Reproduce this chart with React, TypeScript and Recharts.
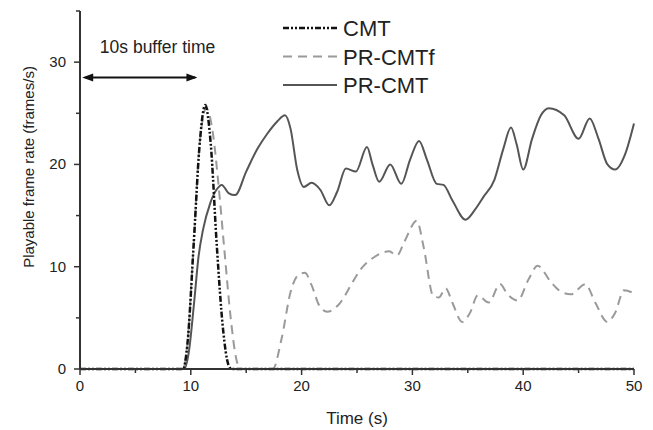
import { LineChart, Line, XAxis, YAxis, ReferenceLine, ReferenceDot, Legend } from "recharts";

const cmtTime = [0, 9.3, 9.7, 10.25, 10.8, 11.3, 11.8, 12.35, 12.9, 13.4, 13.7, 50];
const cmtRate = [0, 0, 2.5, 12, 22, 25.8, 22, 12, 4, 0.4, 0, 0];

const prfTime = [
  0, 9.3, 9.7, 10.25, 10.8, 11.4, 12.0, 12.5, 13.0, 13.6, 14.1, 14.5, 17.4, 18.2, 19.0, 19.7, 20.3,
  20.9, 21.6, 22.3, 23.5, 24.5, 25.3, 26.5, 27.9, 28.6, 29.3, 30.4, 31.0, 31.9, 32.4, 33.0, 33.6,
  34.5, 35.2, 35.9, 36.9, 37.9, 38.6, 39.5, 40.5, 41.3, 42.5, 43.5, 44.3, 45.6, 46.5, 47.6, 48.3,
  49.1, 50,
];
const prfRate = [
  0, 0, 2.5, 12, 22, 25.5, 23, 18, 12, 5, 1, 0, 0, 3, 7.5, 9.2, 9.4,
  8.2, 6.2, 5.6, 6.5, 8.3, 9.7, 10.9, 11.5, 11.1, 12.5, 14.5, 12, 7.1, 7.0, 7.9, 6.5,
  4.6, 5.5, 7.2, 6.5, 8.3, 7.3, 6.7, 8.8, 10.1, 8.5, 7.5, 7.3, 8.3, 6.5, 4.6, 5.5,
  7.7, 7.4,
];

const prTime = [
  0, 9.4, 9.8, 10.3, 10.7, 11.1, 11.75, 12.3, 12.8, 13.4, 14.0, 15.0, 16.0, 16.9, 17.8, 18.5, 19.0,
  19.6, 20.2, 20.9, 21.7, 22.5, 23.2, 24.0, 24.9, 25.9, 26.4, 27.0, 28.0, 29.0, 29.8, 30.6, 31.3,
  32.2, 32.8, 33.6, 34.8, 35.6, 36.4, 37.4, 38.2, 38.9, 39.4, 40.0, 40.8, 41.6, 42.3, 43.7, 45.0,
  46.0, 46.8, 47.6, 48.3, 49.2, 50,
];
const prRate = [
  0, 0, 1.5, 6.5, 11, 13.6, 16.2, 17.5, 18.0, 17.2, 17.0, 19.3, 21.5, 23.0, 24.2, 24.8, 23.5,
  19.5, 17.8, 18.2, 17.5, 16.0, 17.3, 19.6, 19.3, 21.7, 20.0, 18.3, 20.0, 18.1, 20.5, 22.3, 20.5,
  18.1, 18.0, 16.5, 14.6, 15.5, 16.8, 18.5, 21.5, 23.6, 22.0, 19.5, 22.5, 24.8, 25.5, 24.8, 22.5,
  24.5, 22.5, 20.0, 19.5, 21, 24.0,
];

const xTicks = [0, 5, 10, 15, 20, 25, 30, 35, 40, 45, 50];
const yTicks = [0, 5, 10, 15, 20, 25, 30, 35];

const toPoints = (t: number[], v: number[]) => t.map((x, i) => ({ t: x, v: v[i] }));
const cmtData = toPoints(cmtTime, cmtRate);
const prfData = toPoints(prfTime, prfRate);
const prData = toPoints(prTime, prRate);

const FONT = "'Liberation Sans', Arial, Helvetica, sans-serif";
const INK = "#222";

const series = [
  { name: "CMT", color: "#111", dash: "6 2 2 2 2 2", width: 2.5 },
  { name: "PR-CMTf", color: "#9a9a9a", dash: "9 6", width: 2 },
  { name: "PR-CMT", color: "#555", dash: undefined, width: 2 },
];

function XTick({ x, y, payload }: any) {
  const major = payload.value % 10 === 0;
  return (
    <g>
      <line x1={x} x2={x} y1={y} y2={y + (major ? 6 : 4)} stroke="#333" strokeWidth={1.5} />
      {major && (
        <text x={x} y={y + 22} textAnchor="middle" fontSize={15} fontFamily={FONT} fill={INK}>
          {payload.value}
        </text>
      )}
    </g>
  );
}

function YTick({ x, y, payload }: any) {
  const major = payload.value % 10 === 0 && payload.value <= 30;
  return (
    <g>
      <line x1={x} x2={x - (major ? 6 : 4)} y1={y} y2={y} stroke="#333" strokeWidth={1.5} />
      {major && (
        <text x={x - 14} y={y + 5} textAnchor="end" fontSize={15} fontFamily={FONT} fill={INK}>
          {payload.value}
        </text>
      )}
    </g>
  );
}

function LegendBox() {
  return (
    <svg width={200} height={100}>
      {series.map((s, i) => (
        <g key={s.name}>
          <line
            x1={0}
            x2={54}
            y1={28 + i * 28.5}
            y2={28 + i * 28.5}
            stroke={s.color}
            strokeWidth={s.width}
            strokeDasharray={s.dash}
          />
          <text x={60} y={36 + i * 28.5} fontSize={22} fontFamily={FONT} fill={INK}>
            {s.name}
          </text>
        </g>
      ))}
    </svg>
  );
}

const arrowHead = (dir: number) => (props: any) => {
  const { cx, cy } = props;
  return (
    <polygon
      points={`${cx},${cy} ${cx - dir * 11},${cy - 4} ${cx - dir * 11},${cy + 4}`}
      fill="#111"
    />
  );
};

export default function App() {
  return (
    <div style={{ position: "absolute", left: 0, top: 0, width: 653, height: 430, background: "#fff" }}>
      <LineChart width={653} height={430} margin={{ top: 11, right: 19, left: 0, bottom: 0 }}>
        <XAxis
          type="number"
          dataKey="t"
          domain={[0, 50]}
          ticks={xTicks}
          interval={0}
          tick={<XTick />}
          tickLine={false}
          tickSize={0}
          tickMargin={0}
          height={61}
          axisLine={{ stroke: "#333", strokeWidth: 2 }}
          allowDuplicatedCategory={false}
          label={{
            content: ({ viewBox }: any) => (
              <text
                x={viewBox.x + viewBox.width / 2}
                y={viewBox.y + 55}
                textAnchor="middle"
                fontSize={17}
                fontFamily={FONT}
                fill={INK}
              >
                Time (s)
              </text>
            ),
          }}
        />
        <YAxis
          type="number"
          dataKey="v"
          domain={[0, 35]}
          ticks={yTicks}
          interval={0}
          tick={<YTick />}
          tickLine={false}
          tickSize={0}
          tickMargin={0}
          width={80}
          axisLine={{ stroke: "#333", strokeWidth: 2 }}
          label={{
            content: ({ viewBox }: any) => {
              const cx = viewBox.x + 34;
              const cy = 167;
              return (
                <text
                  x={cx}
                  y={cy}
                  transform={`rotate(-90, ${cx}, ${cy})`}
                  textAnchor="middle"
                  fontSize={15}
                  fontFamily={FONT}
                  fill={INK}
                >
                  Playable frame rate (frames/s)
                </text>
              );
            },
          }}
        />
        <Legend
          layout="vertical"
          align="center"
          verticalAlign="middle"
          wrapperStyle={{ left: 283, top: 0, width: 200, height: 100 }}
          content={() => <LegendBox />}
        />
        <ReferenceLine
          segment={[
            { x: 0.5, y: 28.5 },
            { x: 10.4, y: 28.5 },
          ]}
          stroke="#111"
          strokeWidth={2}
        />
        <ReferenceDot x={0.2} y={28.5} r={0} shape={arrowHead(-1)} />
        <ReferenceDot x={10.6} y={28.5} r={0} shape={arrowHead(1)} />
        <ReferenceDot
          x={7.0}
          y={30.9}
          r={0}
          shape={(p: any) => (
            <text x={p.cx} y={p.cy} textAnchor="middle" fontSize={17.5} fontFamily={FONT} fill={INK}>
              10s buffer time
            </text>
          )}
        />
        <Line
          data={prData}
          dataKey="v"
          name="PR-CMT"
          type="monotone"
          stroke={series[2].color}
          strokeWidth={series[2].width}
          dot={false}
          isAnimationActive={false}
        />
        <Line
          data={prfData}
          dataKey="v"
          name="PR-CMTf"
          type="monotone"
          stroke={series[1].color}
          strokeWidth={series[1].width}
          strokeDasharray={series[1].dash}
          dot={false}
          isAnimationActive={false}
        />
        <Line
          data={cmtData}
          dataKey="v"
          name="CMT"
          type="monotone"
          stroke={series[0].color}
          strokeWidth={series[0].width}
          strokeDasharray={series[0].dash}
          dot={false}
          isAnimationActive={false}
        />
      </LineChart>
    </div>
  );
}
